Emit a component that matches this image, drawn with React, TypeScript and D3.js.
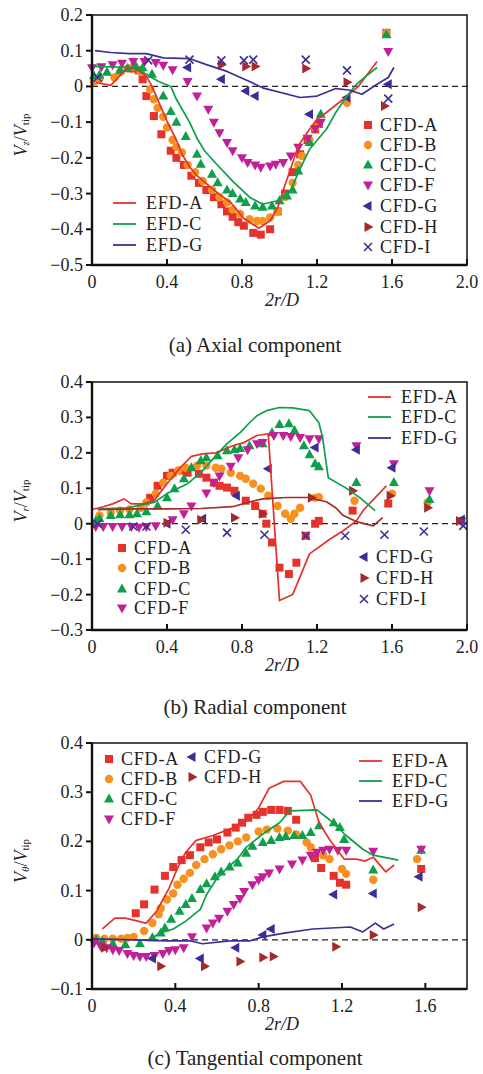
import React from 'react';
import * as d3 from 'd3';

type Pt = [number, number];
type Shape = 'square' | 'circle' | 'up' | 'down' | 'left' | 'right' | 'cross';

const RED = '#e5322d';
const ORANGE = '#f7901e';
const GREEN = '#0e9f4b';
const MAGENTA = '#c21f99';
const BLUE = '#3b2f96';
const BROWN = '#a62a2c';

// ---------- (a) Axial component ----------
const axialXTicks = [0, 0.4, 0.8, 1.2, 1.6, 2.0];
const axialYTicks = [-0.5, -0.4, -0.3, -0.2, -0.1, 0, 0.1, 0.2];

const axialEfdA: Pt[] = [[0.02, 0.011], [0.1, 0.003], [0.19, 0.053], [0.24, 0.047], [0.29, 0.028], [0.32, 0], [0.35, -0.036], [0.4, -0.097], [0.45, -0.15], [0.48, -0.19], [0.52, -0.225], [0.56, -0.25], [0.65, -0.29], [0.7, -0.31], [0.74, -0.325], [0.78, -0.35], [0.81, -0.37], [0.89, -0.397], [0.95, -0.376], [0.99, -0.34], [1.02, -0.29], [1.06, -0.23], [1.1, -0.167], [1.16, -0.12], [1.2, -0.092], [1.25, -0.073], [1.34, -0.036], [1.42, 0], [1.46, 0.028], [1.52, 0.07]];
const axialEfdC: Pt[] = [[0.0, 0.056], [0.22, 0.053], [0.29, 0.034], [0.35, 0.015], [0.42, 0], [0.45, -0.036], [0.52, -0.1], [0.56, -0.145], [0.6, -0.18], [0.66, -0.215], [0.75, -0.265], [0.84, -0.31], [0.91, -0.33], [0.99, -0.32], [1.06, -0.29], [1.11, -0.23], [1.16, -0.176], [1.25, -0.12], [1.3, -0.073], [1.36, -0.027], [1.41, 0.006], [1.46, 0.028], [1.52, 0.053]];
const axialEfdG: Pt[] = [[0.016, 0.1], [0.1, 0.095], [0.2, 0.092], [0.29, 0.092], [0.38, 0.08], [0.52, 0.078], [0.61, 0.061], [0.72, 0.042], [0.84, 0.014], [0.91, -0.004], [1.11, -0.031], [1.2, -0.027], [1.3, -0.006], [1.37, -0.01], [1.44, -0.022], [1.52, 0.006], [1.58, 0.025], [1.61, 0.053]];

const axialCfdA: Pt[] = [[0.22, 0.05], [0.25, 0.045], [0.27, 0.02], [0.29, -0.027], [0.33, -0.083], [0.37, -0.134], [0.42, -0.18], [0.45, -0.2], [0.49, -0.22], [0.53, -0.25], [0.57, -0.27], [0.61, -0.29], [0.65, -0.31], [0.69, -0.33], [0.72, -0.35], [0.75, -0.365], [0.78, -0.38], [0.81, -0.39], [0.86, -0.41], [0.9, -0.415], [0.95, -0.4], [0.99, -0.35], [1.03, -0.3], [1.07, -0.24], [1.11, -0.19], [1.15, -0.15], [1.19, -0.12], [1.21, -0.105], [1.57, 0.15]];
const axialCfdB: Pt[] = [[0.01, 0.012], [0.04, 0.02], [0.12, 0.025], [0.15, 0.04], [0.19, 0.05], [0.22, 0.055], [0.26, 0.04], [0.31, -0.008], [0.33, -0.036], [0.35, -0.06], [0.38, -0.085], [0.4, -0.115], [0.43, -0.15], [0.45, -0.17], [0.48, -0.185], [0.51, -0.22], [0.55, -0.24], [0.59, -0.265], [0.64, -0.29], [0.68, -0.31], [0.72, -0.325], [0.75, -0.345], [0.79, -0.357], [0.84, -0.372], [0.88, -0.377], [0.91, -0.377], [0.95, -0.367], [0.99, -0.35], [1.03, -0.31], [1.07, -0.27], [1.1, -0.22], [1.12, -0.195], [1.16, -0.15], [1.19, -0.115], [1.36, -0.046], [1.57, 0.15]];
const axialCfdC: Pt[] = [[0.01, 0.03], [0.04, 0.032], [0.08, 0.04], [0.15, 0.045], [0.19, 0.05], [0.23, 0.06], [0.27, 0.052], [0.32, 0.034], [0.38, -0.027], [0.42, -0.07], [0.45, -0.1], [0.5, -0.14], [0.56, -0.19], [0.58, -0.218], [0.64, -0.246], [0.67, -0.27], [0.72, -0.29], [0.75, -0.3], [0.79, -0.315], [0.82, -0.325], [0.87, -0.335], [0.91, -0.338], [0.96, -0.335], [1.0, -0.32], [1.04, -0.307], [1.07, -0.29], [1.1, -0.237], [1.16, -0.157], [1.22, -0.078], [1.57, 0.145]];
const axialCfdF: Pt[] = [[0.0, 0.052], [0.05, 0.055], [0.11, 0.061], [0.16, 0.065], [0.22, 0.07], [0.28, 0.07], [0.34, 0.067], [0.38, 0.059], [0.43, 0.047], [0.51, 0.014], [0.56, -0.027], [0.62, -0.064], [0.65, -0.1], [0.68, -0.13], [0.72, -0.157], [0.75, -0.18], [0.8, -0.2], [0.83, -0.213], [0.87, -0.22], [0.9, -0.226], [0.95, -0.223], [0.98, -0.218], [1.02, -0.213], [1.06, -0.195], [1.1, -0.17], [1.15, -0.145], [1.19, -0.118], [1.22, -0.1], [1.58, 0.098]];
const axialCfdG: Pt[] = [[0.51, 0.053], [0.69, 0.02], [0.82, -0.013], [0.87, -0.027], [1.16, -0.078], [1.36, -0.031], [1.58, 0.006]];
const axialCfdH: Pt[] = [[0.69, 0.061], [0.82, 0.056], [0.87, 0.056], [1.14, 0.05], [1.36, 0.012], [1.56, -0.055]];
const axialCfdI: Pt[] = [[0.03, 0.025], [0.3, 0.073], [0.52, 0.075], [0.69, 0.073], [0.81, 0.073], [0.86, 0.075], [1.14, 0.075], [1.36, 0.045], [1.58, -0.034]];

// ---------- (b) Radial component ----------
const radialXTicks = [0, 0.4, 0.8, 1.2, 1.6, 2.0];
const radialYTicks = [-0.3, -0.2, -0.1, 0, 0.1, 0.2, 0.3, 0.4];

const radialEfdA: Pt[] = [[0, 0.04], [0.06, 0.048], [0.11, 0.056], [0.17, 0.07], [0.21, 0.056], [0.27, 0.056], [0.33, 0.065], [0.4, 0.113], [0.47, 0.158], [0.53, 0.19], [0.59, 0.197], [0.66, 0.2], [0.75, 0.22], [0.81, 0.229], [0.88, 0.249], [0.94, 0.254], [1.0, -0.217], [1.07, -0.2], [1.16, -0.085], [1.27, -0.043], [1.34, -0.02], [1.41, 0.008], [1.45, 0.04], [1.57, 0.107]];
const radialEfdC: Pt[] = [[0.04, 0.042], [0.19, 0.045], [0.33, 0.06], [0.4, 0.085], [0.51, 0.113], [0.58, 0.144], [0.65, 0.186], [0.72, 0.226], [0.79, 0.257], [0.84, 0.285], [0.88, 0.305], [0.93, 0.319], [1.0, 0.328], [1.07, 0.327], [1.16, 0.319], [1.21, 0.285], [1.23, 0.243], [1.26, 0.13], [1.36, 0.099], [1.43, 0.073], [1.51, 0.037]];
const radialEfdG: Pt[] = [[0.03, 0.04], [0.22, 0.042], [0.4, 0.042], [0.58, 0.043], [0.75, 0.048], [0.83, 0.06], [0.91, 0.07], [1.04, 0.074], [1.15, 0.074], [1.25, 0.062], [1.3, 0.045], [1.34, 0.023], [1.41, 0.006], [1.5, -0.006], [1.55, 0.017]];

const radialCfdA: Pt[] = [[0.31, 0.073], [0.35, 0.107], [0.4, 0.135], [0.43, 0.144], [0.48, 0.15], [0.51, 0.144], [0.57, 0.141], [0.61, 0.13], [0.65, 0.116], [0.68, 0.107], [0.72, 0.102], [0.76, 0.093], [0.82, 0.065], [0.87, 0.05], [0.91, 0.028], [0.93, 0.0], [0.96, -0.053], [1.0, -0.124], [1.05, -0.142], [1.09, -0.11], [1.14, -0.034], [1.19, 0.0], [1.21, 0.008], [1.39, 0.037], [1.58, 0.057]];
const radialCfdB: Pt[] = [[0.04, 0.023], [0.1, 0.031], [0.15, 0.037], [0.2, 0.04], [0.26, 0.045], [0.29, 0.06], [0.34, 0.085], [0.38, 0.116], [0.42, 0.135], [0.46, 0.15], [0.5, 0.158], [0.56, 0.164], [0.61, 0.164], [0.66, 0.158], [0.69, 0.155], [0.74, 0.144], [0.79, 0.135], [0.82, 0.127], [0.86, 0.113], [0.9, 0.099], [0.94, 0.079], [0.99, 0.05], [1.03, 0.028], [1.06, 0.014], [1.08, 0.028], [1.11, 0.045], [1.19, 0.073], [1.21, 0.075], [1.4, 0.065], [1.6, 0.085], [1.79, 0.06], [1.97, 0.006]];
const radialCfdC: Pt[] = [[0.02, 0.008], [0.04, 0.014], [0.1, 0.023], [0.15, 0.025], [0.2, 0.025], [0.24, 0.028], [0.29, 0.034], [0.35, 0.05], [0.4, 0.073], [0.44, 0.099], [0.49, 0.127], [0.53, 0.158], [0.58, 0.178], [0.61, 0.186], [0.67, 0.192], [0.72, 0.206], [0.76, 0.209], [0.79, 0.212], [0.84, 0.22], [0.91, 0.226], [0.96, 0.257], [1.0, 0.28], [1.05, 0.282], [1.08, 0.263], [1.13, 0.22], [1.16, 0.195], [1.19, 0.169], [1.21, 0.161], [1.41, 0.116], [1.61, 0.116], [1.8, 0.068]];
const radialCfdF: Pt[] = [[0.02, -0.008], [0.06, -0.008], [0.11, -0.008], [0.16, -0.008], [0.21, -0.008], [0.25, -0.01], [0.29, -0.008], [0.34, -0.006], [0.43, 0.011], [0.49, 0.028], [0.53, 0.05], [0.61, 0.087], [0.65, 0.116], [0.68, 0.135], [0.74, 0.162], [0.78, 0.186], [0.83, 0.209], [0.88, 0.226], [0.91, 0.229], [0.97, 0.249], [1.02, 0.249], [1.06, 0.246], [1.11, 0.243], [1.16, 0.24], [1.21, 0.24], [1.41, 0.22], [1.61, 0.169], [1.8, 0.093], [1.97, 0.008]];
const radialCfdG: Pt[] = [[0.4, 0.0], [0.59, 0.014], [0.77, 0.079], [0.94, 0.155], [1.19, 0.215], [1.41, 0.209], [1.6, 0.158], [1.97, 0.012]];
const radialCfdH: Pt[] = [[0.4, 0.003], [0.58, 0.011], [0.76, 0.017], [0.91, 0.028], [1.17, 0.073], [1.39, 0.093], [1.59, 0.079], [1.79, 0.045], [1.96, 0.008]];
const radialCfdI: Pt[] = [[0.03, 0.0], [0.22, -0.008], [0.29, -0.008], [0.5, -0.017], [0.72, -0.025], [0.92, -0.031], [1.14, -0.034], [1.35, -0.034], [1.56, -0.031], [1.77, -0.022], [1.98, -0.006]];

// ---------- (c) Tangential component ----------
const tangXTicks = [0, 0.4, 0.8, 1.2, 1.6];
const tangYTicks = [-0.1, 0, 0.1, 0.2, 0.3, 0.4];

const tangEfdA: Pt[] = [[0.05, 0.022], [0.11, 0.044], [0.16, 0.044], [0.26, 0.034], [0.31, 0.058], [0.37, 0.105], [0.41, 0.145], [0.45, 0.178], [0.5, 0.202], [0.58, 0.212], [0.68, 0.228], [0.75, 0.244], [0.8, 0.268], [0.85, 0.308], [0.92, 0.322], [1.0, 0.322], [1.05, 0.294], [1.09, 0.238], [1.14, 0.204], [1.21, 0.164], [1.27, 0.164], [1.31, 0.16], [1.35, 0.168], [1.41, 0.138], [1.45, 0.152]];
const tangEfdC: Pt[] = [[0.27, 0.0], [0.33, 0.014], [0.39, 0.022], [0.45, 0.038], [0.52, 0.062], [0.55, 0.092], [0.6, 0.125], [0.66, 0.15], [0.7, 0.165], [0.74, 0.188], [0.82, 0.215], [0.9, 0.238], [0.95, 0.262], [1.08, 0.264], [1.14, 0.244], [1.22, 0.212], [1.3, 0.184], [1.35, 0.172], [1.47, 0.162]];
const tangEfdG: Pt[] = [[0, 0.002], [0.2, 0], [0.36, -0.002], [0.47, -0.002], [0.53, -0.008], [0.66, -0.002], [0.76, -0.002], [0.82, 0.006], [0.93, 0.014], [1.06, 0.022], [1.24, 0.026], [1.3, 0.016], [1.36, 0.034], [1.4, 0.022], [1.45, 0.032]];

const tangCfdA: Pt[] = [[0.21, 0.054], [0.25, 0.072], [0.3, 0.102], [0.35, 0.13], [0.39, 0.148], [0.43, 0.162], [0.47, 0.172], [0.52, 0.188], [0.56, 0.198], [0.6, 0.204], [0.65, 0.218], [0.69, 0.228], [0.72, 0.238], [0.75, 0.248], [0.79, 0.254], [0.82, 0.26], [0.86, 0.264], [0.9, 0.264], [0.94, 0.262], [0.98, 0.244], [1.07, 0.166], [1.1, 0.146], [1.16, 0.13], [1.19, 0.116], [1.22, 0.112], [1.58, 0.144]];
const tangCfdB: Pt[] = [[0.02, 0.004], [0.06, 0.002], [0.1, 0.002], [0.14, 0.002], [0.17, 0.004], [0.2, 0.006], [0.25, 0.018], [0.29, 0.034], [0.32, 0.052], [0.33, 0.064], [0.36, 0.082], [0.39, 0.094], [0.41, 0.112], [0.44, 0.124], [0.47, 0.136], [0.5, 0.152], [0.54, 0.164], [0.58, 0.174], [0.62, 0.184], [0.66, 0.192], [0.7, 0.2], [0.74, 0.208], [0.8, 0.22], [0.84, 0.224], [0.89, 0.226], [0.94, 0.222], [0.98, 0.214], [1.03, 0.198], [1.05, 0.188], [1.11, 0.172], [1.14, 0.164], [1.2, 0.144], [1.22, 0.134], [1.35, 0.122], [1.56, 0.164]];
const tangCfdC: Pt[] = [[0.02, 0.0], [0.05, -0.004], [0.1, -0.008], [0.16, -0.01], [0.23, -0.008], [0.29, 0.004], [0.33, 0.014], [0.35, 0.024], [0.38, 0.042], [0.42, 0.058], [0.45, 0.072], [0.48, 0.084], [0.52, 0.102], [0.55, 0.114], [0.59, 0.128], [0.62, 0.138], [0.66, 0.148], [0.7, 0.156], [0.74, 0.176], [0.77, 0.19], [0.82, 0.198], [0.86, 0.202], [0.9, 0.208], [0.93, 0.21], [0.97, 0.212], [1.01, 0.212], [1.05, 0.218], [1.09, 0.232], [1.16, 0.238], [1.19, 0.228], [1.21, 0.204], [1.35, 0.142], [1.58, 0.182]];
const tangCfdF: Pt[] = [[0.01, -0.006], [0.04, -0.012], [0.07, -0.016], [0.1, -0.02], [0.13, -0.022], [0.17, -0.028], [0.2, -0.032], [0.23, -0.034], [0.26, -0.034], [0.3, -0.032], [0.34, -0.028], [0.37, -0.022], [0.4, -0.02], [0.44, -0.016], [0.48, 0.006], [0.55, 0.024], [0.58, 0.034], [0.61, 0.044], [0.65, 0.058], [0.68, 0.072], [0.71, 0.084], [0.73, 0.098], [0.77, 0.112], [0.8, 0.122], [0.82, 0.128], [0.85, 0.136], [0.9, 0.144], [0.96, 0.154], [1.01, 0.162], [1.05, 0.172], [1.08, 0.178], [1.11, 0.182], [1.14, 0.184], [1.18, 0.182], [1.22, 0.182], [1.35, 0.18], [1.58, 0.184]];
const tangCfdG: Pt[] = [[0.29, -0.038], [0.52, -0.038], [0.69, -0.016], [0.82, 0.01], [0.86, 0.022], [1.16, 0.092], [1.35, 0.094], [1.57, 0.128]];
const tangCfdH: Pt[] = [[0.06, -0.016], [0.33, -0.054], [0.54, -0.054], [0.71, -0.044], [0.82, -0.036], [0.87, -0.034], [1.17, -0.014], [1.35, 0.01], [1.58, 0.066]];

const FONT = "'Liberation Serif', 'Times New Roman', Times, serif";

interface Curve { data: Pt[]; color: string }
interface Series { data: Pt[]; color: string; shape: Shape }
interface LegendEntry { label: string; color: string; shape?: Shape; x: number; y: number }

function Marker({ shape, x, y, color }: { shape: Shape; x: number; y: number; color: string }) {
  const s = 5;
  switch (shape) {
    case 'square':
      return <rect x={x - 4} y={y - 4} width={8} height={8} fill={color} />;
    case 'circle':
      return <circle cx={x} cy={y} r={4.2} fill={color} />;
    case 'cross':
      return (
        <path
          d={`M${x - 4},${y - 4}L${x + 4},${y + 4}M${x - 4},${y + 4}L${x + 4},${y - 4}`}
          stroke={color}
          strokeWidth={1.6}
          fill="none"
        />
      );
    case 'up':
      return <path d={`M${x},${y - s - 0.5}L${x - s},${y + 3.5}L${x + s},${y + 3.5}Z`} fill={color} />;
    case 'down':
      return <path d={`M${x},${y + s + 0.5}L${x - s},${y - 3.5}L${x + s},${y - 3.5}Z`} fill={color} />;
    case 'left':
      return <path d={`M${x - s - 0.5},${y}L${x + 3.5},${y - s}L${x + 3.5},${y + s}Z`} fill={color} />;
    case 'right':
      return <path d={`M${x + s + 0.5},${y}L${x - 3.5},${y - s}L${x - 3.5},${y + s}Z`} fill={color} />;
  }
  return null;
}

const fmt = (v: number) => (Math.abs(v) < 1e-9 ? '0' : (v < 0 ? '\u2212' : '') + Math.abs(v).toFixed(1));

interface PanelProps {
  top: number;
  bottom: number;
  xMax: number;
  yMin: number;
  yMax: number;
  xTicks: number[];
  yTicks: number[];
  curves: Curve[];
  series: Series[];
  legend: LegendEntry[];
  sub: string;
  caption: string;
  captionY: number;
}

const LEFT = 92;
const RIGHT = 467;

function Panel(p: PanelProps) {
  const x = d3.scaleLinear().domain([0, p.xMax]).range([LEFT, RIGHT]);
  const y = d3.scaleLinear().domain([p.yMin, p.yMax]).range([p.bottom, p.top]);
  const line = d3
    .line<Pt>()
    .x((d) => x(d[0]))
    .y((d) => y(d[1]));
  const yMid = (p.top + p.bottom) / 2 - 5;
  return (
    <g fontFamily={FONT}>
      {/* zero reference */}
      <line x1={LEFT} x2={RIGHT} y1={y(0)} y2={y(0)} stroke="#222" strokeWidth={1.2} strokeDasharray="6,4" />
      {p.series.map((s, i) => (
        <g key={'s' + i}>
          {s.data.map((d, j) => (
            <Marker key={j} shape={s.shape} x={x(d[0])} y={y(d[1])} color={s.color} />
          ))}
        </g>
      ))}
      {p.curves.map((c, i) => (
        <path key={'c' + i} d={line(c.data) || ''} fill="none" stroke={c.color} strokeWidth={1.7} strokeLinejoin="round" />
      ))}
      {/* frame */}
      <rect x={LEFT} y={p.top} width={RIGHT - LEFT} height={p.bottom - p.top} fill="none" stroke="#111" strokeWidth={1.5} />
      <line x1={LEFT} x2={LEFT} y1={p.top} y2={p.bottom + 1} stroke="#111" strokeWidth={2.4} />
      <line x1={LEFT - 1} x2={RIGHT} y1={p.bottom} y2={p.bottom} stroke="#111" strokeWidth={2.4} />
      {p.yTicks.map((t) => (
        <g key={'y' + t}>
          <line x1={LEFT - 6} x2={LEFT} y1={y(t)} y2={y(t)} stroke="#111" strokeWidth={2} />
          <text x={LEFT - 9} y={y(t)} textAnchor="end" dominantBaseline="central" fontSize={18} fill="#222">
            {fmt(t)}
          </text>
        </g>
      ))}
      {p.xTicks.map((t) => (
        <g key={'x' + t}>
          <line x1={x(t)} x2={x(t)} y1={p.bottom} y2={p.bottom - 6} stroke="#111" strokeWidth={2} />
          <text x={x(t)} y={p.bottom + 17} textAnchor="middle" dominantBaseline="central" fontSize={18} fill="#222">
            {fmt(t)}
          </text>
        </g>
      ))}
      {/* axis titles */}
      <text x={282} y={p.bottom + 35} textAnchor="middle" dominantBaseline="central" fontSize={18} fill="#222" fontStyle="italic">
        2r/D
      </text>
      <text transform={`translate(21,${yMid}) rotate(-90)`} textAnchor="middle" dominantBaseline="central" fontSize={18} fill="#222">
        <tspan fontStyle="italic">V</tspan>
        <tspan fontStyle="italic" fontSize={11} dy={4}>
          {p.sub}
        </tspan>
        <tspan dy={-4}>/</tspan>
        <tspan fontStyle="italic">V</tspan>
        <tspan fontSize={11} dy={4}>
          tip
        </tspan>
      </text>
      {/* legends */}
      {p.legend.map((e, i) => (
        <g key={'l' + i}>
          {e.shape ? (
            <Marker shape={e.shape} x={e.x} y={e.y} color={e.color} />
          ) : (
            <line x1={e.x - 12} x2={e.x + 11} y1={e.y} y2={e.y} stroke={e.color} strokeWidth={1.8} />
          )}
          <text
            x={e.shape ? e.x + 12 : e.x + 21}
            y={e.y}
            dominantBaseline="central"
            fontSize={18}
            letterSpacing={0.8}
            fill="#222"
          >
            {e.label}
          </text>
        </g>
      ))}
      <text x={255} y={p.captionY} textAnchor="middle" dominantBaseline="central" fontSize={21} fill="#222">
        {p.caption}
      </text>
    </g>
  );
}

export default function App() {
  const cfdSeries = (a: Pt[], b: Pt[], c: Pt[], f: Pt[], g: Pt[], h: Pt[], i?: Pt[]): Series[] => {
    const list: Series[] = [
      { data: a, color: RED, shape: 'square' },
      { data: b, color: ORANGE, shape: 'circle' },
      { data: c, color: GREEN, shape: 'up' },
      { data: f, color: MAGENTA, shape: 'down' },
      { data: g, color: BLUE, shape: 'left' },
      { data: h, color: BROWN, shape: 'right' },
    ];
    if (i) list.push({ data: i, color: BLUE, shape: 'cross' });
    return list;
  };

  const axialLegend: LegendEntry[] = [
    { label: 'EFD-A', color: RED, x: 125, y: 203 },
    { label: 'EFD-C', color: GREEN, x: 125, y: 224 },
    { label: 'EFD-G', color: BLUE, x: 125, y: 245 },
    { label: 'CFD-A', color: RED, shape: 'square', x: 368, y: 125 },
    { label: 'CFD-B', color: ORANGE, shape: 'circle', x: 368, y: 145 },
    { label: 'CFD-C', color: GREEN, shape: 'up', x: 368, y: 165 },
    { label: 'CFD-F', color: MAGENTA, shape: 'down', x: 368, y: 185 },
    { label: 'CFD-G', color: BLUE, shape: 'left', x: 368, y: 206 },
    { label: 'CFD-H', color: BROWN, shape: 'right', x: 368, y: 227 },
    { label: 'CFD-I', color: BLUE, shape: 'cross', x: 368, y: 247 },
  ];
  const radialLegend: LegendEntry[] = [
    { label: 'EFD-A', color: RED, x: 380, y: 397 },
    { label: 'EFD-C', color: GREEN, x: 380, y: 417 },
    { label: 'EFD-G', color: BLUE, x: 380, y: 438 },
    { label: 'CFD-A', color: RED, shape: 'square', x: 122, y: 548 },
    { label: 'CFD-B', color: ORANGE, shape: 'circle', x: 122, y: 568 },
    { label: 'CFD-C', color: GREEN, shape: 'up', x: 122, y: 589 },
    { label: 'CFD-F', color: MAGENTA, shape: 'down', x: 122, y: 608 },
    { label: 'CFD-G', color: BLUE, shape: 'left', x: 364, y: 557 },
    { label: 'CFD-H', color: BROWN, shape: 'right', x: 364, y: 578 },
    { label: 'CFD-I', color: BLUE, shape: 'cross', x: 364, y: 599 },
  ];
  const tangLegend: LegendEntry[] = [
    { label: 'CFD-A', color: RED, shape: 'square', x: 109, y: 759 },
    { label: 'CFD-B', color: ORANGE, shape: 'circle', x: 109, y: 779 },
    { label: 'CFD-C', color: GREEN, shape: 'up', x: 109, y: 799 },
    { label: 'CFD-F', color: MAGENTA, shape: 'down', x: 109, y: 819 },
    { label: 'CFD-G', color: BLUE, shape: 'left', x: 192, y: 757 },
    { label: 'CFD-H', color: BROWN, shape: 'right', x: 192, y: 777 },
    { label: 'EFD-A', color: RED, x: 371, y: 761 },
    { label: 'EFD-C', color: GREEN, x: 371, y: 781 },
    { label: 'EFD-G', color: BLUE, x: 371, y: 801 },
  ];

  return (
    <svg
      width={483}
      height={1074}
      viewBox="0 0 483 1074"
      style={{ position: 'absolute', left: 0, top: 0, background: '#fff' }}
    >
      <rect width={483} height={1074} fill="#fff" />
      <Panel
        top={15}
        bottom={265}
        xMax={2}
        yMin={-0.5}
        yMax={0.2}
        xTicks={axialXTicks}
        yTicks={axialYTicks}
        curves={[
          { data: axialEfdA, color: RED },
          { data: axialEfdC, color: GREEN },
          { data: axialEfdG, color: BLUE },
        ]}
        series={cfdSeries(axialCfdA, axialCfdB, axialCfdC, axialCfdF, axialCfdG, axialCfdH, axialCfdI)}
        legend={axialLegend}
        sub="z"
        caption="(a) Axial component"
        captionY={345}
      />
      <Panel
        top={382}
        bottom={630}
        xMax={2}
        yMin={-0.3}
        yMax={0.4}
        xTicks={radialXTicks}
        yTicks={radialYTicks}
        curves={[
          { data: radialEfdA, color: RED },
          { data: radialEfdC, color: GREEN },
          { data: radialEfdG, color: BROWN },
        ]}
        series={cfdSeries(radialCfdA, radialCfdB, radialCfdC, radialCfdF, radialCfdG, radialCfdH, radialCfdI)}
        legend={radialLegend}
        sub="r"
        caption="(b) Radial component"
        captionY={707}
      />
      <Panel
        top={743}
        bottom={989}
        xMax={1.8}
        yMin={-0.1}
        yMax={0.4}
        xTicks={tangXTicks}
        yTicks={tangYTicks}
        curves={[
          { data: tangEfdA, color: RED },
          { data: tangEfdC, color: GREEN },
          { data: tangEfdG, color: BLUE },
        ]}
        series={cfdSeries(tangCfdA, tangCfdB, tangCfdC, tangCfdF, tangCfdG, tangCfdH)}
        legend={tangLegend}
        sub="θ"
        caption="(c) Tangential component"
        captionY={1058}
      />
    </svg>
  );
}
